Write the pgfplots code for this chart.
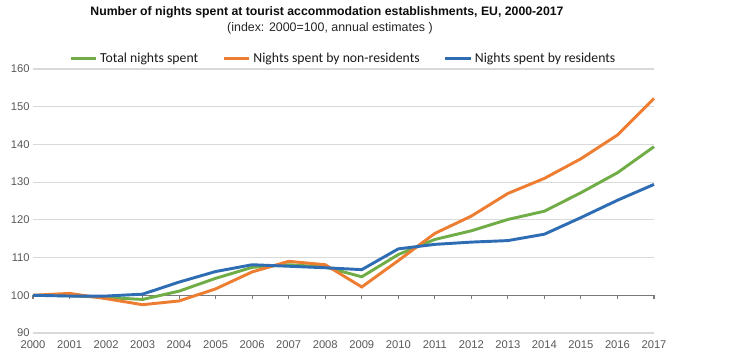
\documentclass[border=0pt]{standalone}
\usepackage{pgfplots}
\pgfplotsset{compat=1.18}
\usepackage{fontspec}
\setmainfont{Liberation Sans}
\newfontfamily\leg{Carlito}
\definecolor{cgreen}{HTML}{70AD47}
\definecolor{corange}{HTML}{ED7D31}
\definecolor{cblue}{HTML}{2E6DB4}
\definecolor{cgrid}{HTML}{D9D9D9}
\definecolor{ctick}{HTML}{595959}
\begin{document}
\begin{tikzpicture}
\useasboundingbox (-24.75pt,-17.25pt) rectangle (537.75pt,249.75pt);
\begin{axis}[
  at={(0,0)}, anchor=south west,
  scale only axis, width=465.75pt, height=198pt,
  xmin=0, xmax=17, ymin=90, ymax=160,
  xtick={0,...,17},
  xticklabels={2000,2001,2002,2003,2004,2005,2006,2007,2008,2009,2010,2011,2012,2013,2014,2015,2016,2017},
  ytick={90,100,...,160},
  /pgf/number format/assume math mode=true,
  tick label style={font=\fontsize{8.4pt}{9pt}\selectfont, text=ctick},
  xticklabel style={yshift=-2.5pt},
  yticklabel style={xshift=1pt},
  axis line style={draw=none},
  major tick length=0pt,
  ymajorgrids, grid style={cgrid, line width=0.8pt},
  legend columns=3,
  legend style={draw=none, fill=none, at={(0.5,1)}, anchor=center, yshift=8pt,
    font=\leg\fontsize{10.3pt}{11pt}\selectfont, text=black!90,
    /tikz/every even column/.append style={column sep=16pt},
    inner sep=0pt},
  legend image code/.code={\draw[#1, line width=2.4pt] (0pt,0pt) -- (19pt,0pt);},
  clip=false,
]
\draw[color=ctick!80, line width=0.8pt] (axis cs:0,100) -- (axis cs:17,100);
\pgfplotsinvokeforeach{0,1,2,3,4,5,6,7,8,9,10,11,12,13,14,15,16,17}{
  \draw[color=ctick!80, line width=0.8pt] (axis cs:#1,100) -- ([yshift=-3pt]axis cs:#1,100);
}
\addplot[cgreen, line width=2.2pt] coordinates {
(0,100) (1,99.9) (2,99.4) (3,98.9) (4,101.1) (5,104.5)
(6,107.4) (7,108.1) (8,107.5) (9,104.9) (10,110.8) (11,114.8)
(12,117.1) (13,120.1) (14,122.3) (15,127.2) (16,132.5) (17,139.4)};
\addlegendentry{Total nights spent}
\addplot[corange, line width=2.2pt] coordinates {
(0,100) (1,100.5) (2,99.1) (3,97.5) (4,98.5) (5,101.7)
(6,106.2) (7,109.0) (8,108.1) (9,102.2) (10,109.2) (11,116.4)
(12,121.0) (13,127.0) (14,131.0) (15,136.2) (16,142.5) (17,152.2)};
\addlegendentry{Nights spent by non-residents}
\addplot[cblue, line width=2.2pt] coordinates {
(0,100) (1,99.8) (2,99.8) (3,100.3) (4,103.5) (5,106.3)
(6,108.1) (7,107.7) (8,107.3) (9,106.8) (10,112.3) (11,113.5)
(12,114.1) (13,114.5) (14,116.2) (15,120.6) (16,125.2) (17,129.4)};
\addlegendentry{Nights spent by residents}
\end{axis}
\node[font=\bfseries\fontsize{9.2pt}{10pt}\selectfont, text=black!95] at (220.5pt,240.75pt) {Number of nights spent at tourist accommodation establishments, EU, 2000-2017};
\node[font=\fontsize{9.3pt}{10pt}\selectfont, text=black!85] at (222.75pt,228.75pt) {(index: 2000=100, annual estimates )};
\end{tikzpicture}
\end{document}
